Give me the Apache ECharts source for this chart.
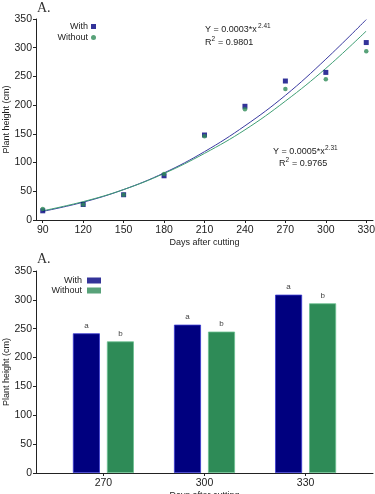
<!DOCTYPE html>
<html>
<head>
<meta charset="utf-8">
<script src="https://cdn.jsdelivr.net/npm/echarts@6/dist/echarts.min.js"></script>
<style>
html,body{margin:0;padding:0;background:#fff;}
#chart{width:375px;height:494px;}
</style>
</head>
<body>
<div id="chart"></div>
<script>
// ---- data ----
var days = [90, 120, 150, 180, 210, 240, 270, 300, 330];
var withHeights = [16, 27, 44, 77, 148, 198, 242, 257, 309];
var withoutHeights = [19, 27, 44, 80, 146, 193, 228, 245, 294];
// fitted curves
var withFit = [15, 31, 53, 82, 119, 164, 217, 280, 349];
var withoutFit = [16, 32, 53, 81, 116, 157, 207, 264, 329];
// bar panel
var barDays = [270, 300, 330];
var barWith = [242, 257, 309];
var barWithout = [228, 245, 294];
var lettersWith = ['a', 'a', 'a'];
var lettersWithout = ['b', 'b', 'b'];

var navy = '#00007f';
var green = '#2e8b57';
var FONT = '"Liberation Sans", Arial, sans-serif';

function pairs(xs, ys) { return xs.map(function (x, i) { return [x, ys[i]]; }); }

var chart = echarts.init(document.getElementById('chart'), null, { renderer: 'canvas' });

function yAxisCfg(gridIndex) {
  return {
    gridIndex: gridIndex, type: 'value', min: 0, max: 350, interval: 50,
    name: 'Plant height (cm)', nameLocation: 'middle', nameGap: 25, nameMoveOverlap: false,
    nameTextStyle: { fontFamily: FONT, fontSize: 9, color: '#222' },
    axisLine: { show: true, lineStyle: { color: '#222', width: 1 } },
    axisTick: { show: true, length: 3, lineStyle: { color: '#222' } },
    axisLabel: { fontFamily: FONT, fontSize: 10.5, color: '#222', margin: 4 },
    splitLine: { show: false }
  };
}

var option = {
  animation: false,
  backgroundColor: '#fff',
  grid: [
    { left: 36, right: 2, top: 19, height: 201, containLabel: false, outerBoundsMode: 'none' },
    { left: 36, right: 2, top: 271, height: 202, containLabel: false, outerBoundsMode: 'none' }
  ],
  xAxis: [
    {
      gridIndex: 0, type: 'value', min: 85, max: 335,
      name: 'Days after cutting', nameLocation: 'middle', nameGap: 18, nameMoveOverlap: false,
      nameTextStyle: { fontFamily: FONT, fontSize: 9, color: '#222' },
      axisLine: { show: true, onZero: false, lineStyle: { color: '#222', width: 1 } },
      axisTick: { show: true, length: 3, customValues: days, lineStyle: { color: '#222' } },
      axisLabel: { fontFamily: FONT, fontSize: 10.5, color: '#222', margin: 5, customValues: days },
      splitLine: { show: false }
    },
    {
      gridIndex: 1, type: 'value', min: 250, max: 350,
      name: 'Days after cutting', nameLocation: 'middle', nameGap: 18, nameMoveOverlap: false,
      nameTextStyle: { fontFamily: FONT, fontSize: 9, color: '#222' },
      axisLine: { show: true, onZero: false, lineStyle: { color: '#222', width: 1 } },
      axisTick: { show: true, length: 3, customValues: barDays, lineStyle: { color: '#222' } },
      axisLabel: { fontFamily: FONT, fontSize: 10.5, color: '#222', margin: 5, customValues: barDays },
      splitLine: { show: false }
    }
  ],
  yAxis: [yAxisCfg(0), yAxisCfg(1)],
  legend: [
    {
      orient: 'vertical', right: 375 - 101, top: 17, align: 'right',
      itemWidth: 5, itemHeight: 5, itemGap: 2,
      textStyle: { fontFamily: FONT, fontSize: 9, color: '#222', padding: [0, -2, 0, 0] },
      data: [{ name: 'With', icon: 'rect' }, { name: 'Without', icon: 'circle' }],
      selectedMode: false
    },
    {
      orient: 'vertical', right: 375 - 106, top: 271, align: 'right',
      itemWidth: 14, itemHeight: 6, itemGap: 1,
      textStyle: { fontFamily: FONT, fontSize: 9, color: '#222' },
      data: [{ name: 'With', icon: 'rect' }, { name: 'Without', icon: 'rect' }],
      selectedMode: false
    }
  ],
  series: [
    {
      name: 'With fit', type: 'line', xAxisIndex: 0, yAxisIndex: 0,
      data: pairs(days, withFit), smooth: 0.4, showSymbol: false, symbol: 'none',
      lineStyle: { color: '#3a3aa0', width: 1 }, z: 2, silent: true
    },
    {
      name: 'Without fit', type: 'line', xAxisIndex: 0, yAxisIndex: 0,
      data: pairs(days, withoutFit), smooth: 0.4, showSymbol: false, symbol: 'none',
      lineStyle: { color: '#3f9f74', width: 1 }, z: 2, silent: true
    },
    {
      name: 'With', type: 'scatter', xAxisIndex: 0, yAxisIndex: 0,
      data: pairs(days, withHeights), symbol: 'rect', symbolSize: 5,
      itemStyle: { color: navy }, z: 3
    },
    {
      name: 'Without', type: 'scatter', xAxisIndex: 0, yAxisIndex: 0,
      data: pairs(days, withoutHeights), symbol: 'circle', symbolSize: 4.5,
      itemStyle: { color: green }, z: 4
    },
    {
      name: 'With', type: 'bar', xAxisIndex: 1, yAxisIndex: 1,
      data: pairs(barDays, barWith), barWidth: 27, barGap: '26%',
      itemStyle: { color: navy, borderColor: '#3a3ad0', borderWidth: 0.8 },
      label: {
        show: true, position: 'top', distance: 4, fontFamily: FONT, fontSize: 8, color: '#444',
        formatter: function (p) { return lettersWith[p.dataIndex]; }
      }
    },
    {
      name: 'Without', type: 'bar', xAxisIndex: 1, yAxisIndex: 1,
      data: pairs(barDays, barWithout), barWidth: 27, barGap: '26%',
      itemStyle: { color: green, borderColor: '#6cc090', borderWidth: 0.8 },
      label: {
        show: true, position: 'top', distance: 4, fontFamily: FONT, fontSize: 8, color: '#444',
        formatter: function (p) { return lettersWithout[p.dataIndex]; }
      }
    }
  ],
  graphic: [
    { type: 'text', left: 37, top: 1, style: { text: 'A.', fontFamily: '"Liberation Serif", "Times New Roman", serif', fontSize: 14, fill: '#333' } },
    { type: 'text', left: 37, top: 252, style: { text: 'A.', fontFamily: '"Liberation Serif", "Times New Roman", serif', fontSize: 14, fill: '#333' } },
    // top equation
    { type: 'text', x: 205, y: 30, style: { text: 'Y = 0.0003*x', fontFamily: FONT, fontSize: 9, fill: '#222', verticalAlign: 'middle' } },
    { type: 'text', x: 258, y: 26, style: { text: '2.41', fontFamily: FONT, fontSize: 6.5, fill: '#222', verticalAlign: 'middle' } },
    { type: 'text', x: 205, y: 43, style: { text: 'R', fontFamily: FONT, fontSize: 9, fill: '#222', verticalAlign: 'middle' } },
    { type: 'text', x: 211.5, y: 39.5, style: { text: '2', fontFamily: FONT, fontSize: 6.5, fill: '#222', verticalAlign: 'middle' } },
    { type: 'text', x: 215.5, y: 43, style: { text: ' = 0.9801', fontFamily: FONT, fontSize: 9, fill: '#222', verticalAlign: 'middle' } },
    // bottom equation
    { type: 'text', x: 273, y: 152, style: { text: 'Y = 0.0005*x', fontFamily: FONT, fontSize: 9, fill: '#222', verticalAlign: 'middle' } },
    { type: 'text', x: 325, y: 148, style: { text: '2.31', fontFamily: FONT, fontSize: 6.5, fill: '#222', verticalAlign: 'middle' } },
    { type: 'text', x: 279, y: 164, style: { text: 'R', fontFamily: FONT, fontSize: 9, fill: '#222', verticalAlign: 'middle' } },
    { type: 'text', x: 285.5, y: 160.5, style: { text: '2', fontFamily: FONT, fontSize: 6.5, fill: '#222', verticalAlign: 'middle' } },
    { type: 'text', x: 289.5, y: 164, style: { text: ' = 0.9765', fontFamily: FONT, fontSize: 9, fill: '#222', verticalAlign: 'middle' } }
  ]
};
chart.setOption(option);
</script>
</body>
</html>
